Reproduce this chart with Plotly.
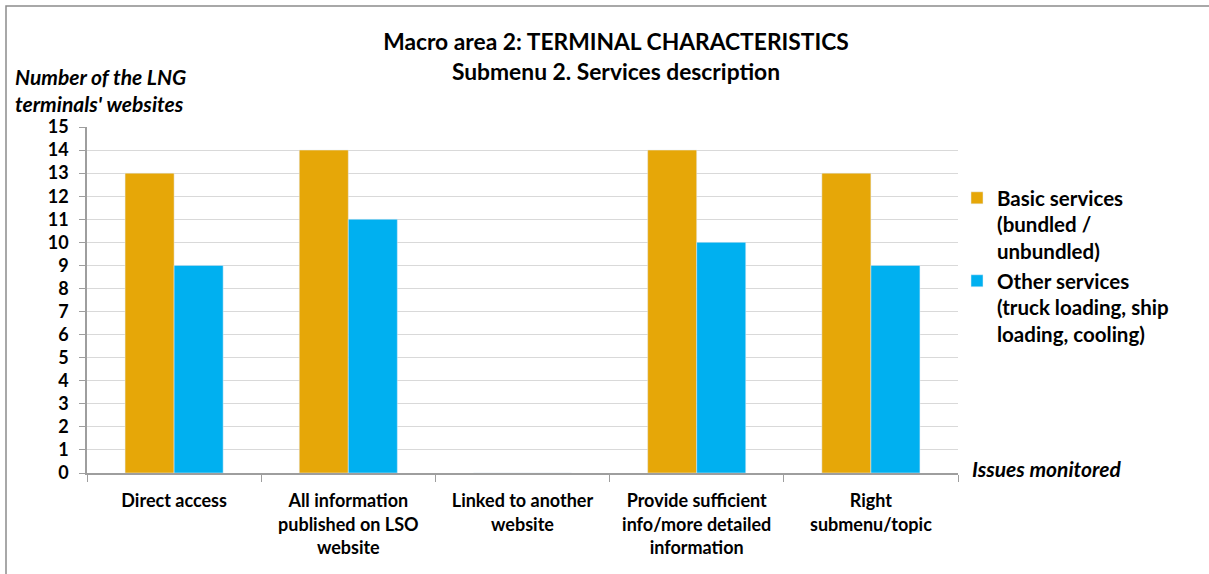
import plotly.graph_objects as go

categories = ["Direct access", "All information<br>published on LSO<br>website", "Linked to another<br>website",
              "Provide sufficient<br>info/more detailed<br>information", "Right<br>submenu/topic"]
basic_services = [13, 14, 0, 14, 13]
other_services = [9, 11, 0, 10, 9]
series_names = ["Basic services<br>(bundled /<br>unbundled)", "Other services<br>(truck loading, ship<br>loading, cooling)"]
y_ticks = list(range(0, 16))

W, H = 1209, 574
L, R, T, B = 87, 958, 127, 473
pw, ph = R - L, B - T

def px(x):
    return (x - L) / pw

def py(y):
    return (B - y) / ph

FONT = "Lato"
FS = 20.5

fig = go.Figure()
fig.add_trace(go.Bar(x=categories, y=basic_services, name=f"<b>{series_names[0]}</b>", marker_color="#E6A708"))
fig.add_trace(go.Bar(x=categories, y=other_services, name=f"<b>{series_names[1]}</b>", marker_color="#00B0F0"))

fig.update_layout(
    width=W, height=H,
    margin=dict(l=L, r=W - R, t=T, b=H - B, autoexpand=False),
    paper_bgcolor="white", plot_bgcolor="white",
    barmode="group", bargap=0.437, bargroupgap=0,
    font=dict(family=FONT, size=FS, color="black"),
    title=dict(text="<b>Macro area 2: TERMINAL CHARACTERISTICS<br>Submenu 2. Services description</b>",
               x=616 / W, xanchor="center", y=1 - 50 / H, yanchor="middle",
               font=dict(family=FONT, size=22.8, color="black")),
    legend=dict(x=px(957), y=py(178), xanchor="left", yanchor="top", valign="top",
                font=dict(family=FONT, size=FS, color="black"), traceorder="normal",
                itemwidth=30, bgcolor="rgba(0,0,0,0)"),
    showlegend=True,
)
fig.update_xaxes(showline=True, linecolor="#9E9E9E", linewidth=1.5, ticks="outside", tickson="boundaries",
                 ticklen=7, tickcolor="#9E9E9E", tickfont=dict(family=FONT, size=18, color="black"),
                 showgrid=False, ticklabelstandoff=11, tickangle=0, automargin=False,
                 tickvals=categories, ticktext=[f"<b>{c}</b>" for c in categories])
fig.update_yaxes(range=[0, 15], tickvals=y_ticks, ticktext=[f"<b>{v}</b>" for v in y_ticks],
                 showline=True, linecolor="#9E9E9E", linewidth=1.5,
                 ticks="outside", ticklen=6, tickcolor="#9E9E9E", showgrid=True, gridcolor="#D9D9D9",
                 gridwidth=1, tickfont=dict(family=FONT, size=18, color="black"), zeroline=False,
                 ticklabelstandoff=7, automargin=False)

fig.add_annotation(text="<b><i>Number of the LNG<br>terminals' websites</i></b>", xref="paper", yref="paper",
                   x=px(13), y=py(90), xanchor="left", yanchor="middle", showarrow=False, align="left",
                   font=dict(family=FONT, size=21, color="black"))
fig.add_annotation(text="<b><i>Issues monitored</i></b>", xref="paper", yref="paper",
                   x=px(970), y=py(468), xanchor="left", yanchor="middle", showarrow=False,
                   font=dict(family=FONT, size=21, color="black"))
fig.add_shape(type="rect", xref="paper", yref="paper", x0=px(6), y0=py(585), x1=px(1220), y1=py(6),
              line=dict(color="#8C8C8C", width=1.5), layer="below")

fig.write_html("out.html", post_script="document.body.style.margin='0px';",
               config={"displayModeBar": False})
